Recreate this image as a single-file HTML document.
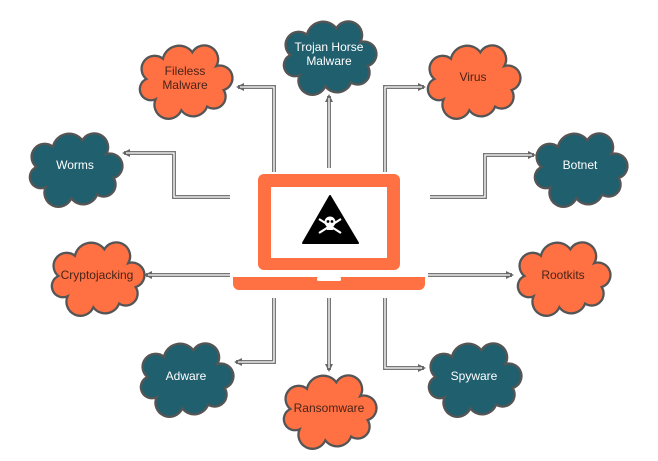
<!DOCTYPE html>
<html><head><meta charset="utf-8"><style>
html,body{margin:0;padding:0;background:#fff;}
svg{display:block;}
text{font-family:"Liberation Sans",sans-serif;font-size:12px;text-anchor:middle;}
.o{fill:#ff7043;}
.t{fill:#1f5f6e;}
.ot{fill:#4a2418;}
.tt{fill:#fff;}
.l1{fill:none;stroke:#777;stroke-width:4;}
.l2{fill:none;stroke:#fff;stroke-width:1.3;}
</style></head><body>
<svg width="658" height="461" viewBox="0 0 658 461">
<defs>
<symbol id="c" viewBox="0 0 100 76" overflow="visible">
<path d="M18,60 A12,12 0 0 1 8,38 A14,14 0 0 1 26,16 A18,18 0 0 1 58,9 A15,15 0 0 1 84,24 A13,13 0 0 1 92,50 A13,13 0 0 1 74,68 A16,16 0 0 1 46,72 A14,14 0 0 1 18,60 Z" stroke="#555" stroke-width="2.5"/>
</symbol>
<marker id="a" markerWidth="8" markerHeight="8" refX="6" refY="4" orient="auto" markerUnits="userSpaceOnUse"><path d="M0,0 L8,4 L0,8 Z" fill="#666"/></marker>
</defs>
<g class="l1" marker-end="url(#a)">
<path d="M274,172 V87 H238"/><path d="M329,168 V96"/><path d="M385,172 V87 H424"/>
<path d="M230,197 H174 V153 H124"/><path d="M430,197 H485 V155 H534"/>
<path d="M230,275 H146"/><path d="M428,275 H512"/>
<path d="M274,298 V362 H236"/><path d="M329,298 V370"/><path d="M385,298 V368 H424"/>
</g>
<g class="l2">
<path d="M274,172 V87 H240"/><path d="M329,168 V98"/><path d="M385,172 V87 H422"/>
<path d="M230,197 H174 V153 H126"/><path d="M430,197 H485 V155 H532"/>
<path d="M230,275 H148"/><path d="M428,275 H510"/>
<path d="M274,298 V362 H238"/><path d="M329,298 V368"/><path d="M385,298 V368 H422"/>
</g>
<!-- laptop -->
<rect x="258" y="174" width="142" height="96" rx="6" fill="#ff7043"/>
<rect x="271" y="187" width="116" height="71" fill="#fff"/>
<path d="M233,277 H425 V284 A6,6 0 0 1 419,290 H239 A6,6 0 0 1 233,284 Z" fill="#ff7043"/>
<rect x="317" y="277" width="24" height="4" rx="1.5" fill="#fff"/>
<path d="M330,196 L358,243 L303,243 Z" fill="#000" stroke="#000" stroke-width="2" stroke-linejoin="round"/>
<g fill="#fff">
<circle cx="330" cy="222" r="5.5"/><rect x="326.5" y="225" width="7" height="5" rx="1"/>
<path d="M319,219 L341,233 M341,219 L319,233" stroke="#fff" stroke-width="2.2"/>
</g>
<circle cx="328" cy="221.5" r="1.4" fill="#000"/><circle cx="332" cy="221.5" r="1.4" fill="#000"/>
<!-- clouds -->
<use href="#c" class="o" x="139" y="44" width="92" height="70"/>
<text class="ot" x="185" y="75">Fileless</text><text class="ot" x="185" y="89">Malware</text>
<use href="#c" class="t" x="283" y="20" width="92" height="70"/>
<text class="tt" x="329" y="51">Trojan Horse</text><text class="tt" x="329" y="65">Malware</text>
<use href="#c" class="o" x="427" y="44" width="92" height="70"/>
<text class="ot" x="473" y="81">Virus</text>
<use href="#c" class="t" x="29" y="132" width="92" height="70"/>
<text class="tt" x="75" y="169">Worms</text>
<use href="#c" class="t" x="534" y="132" width="92" height="70"/>
<text class="tt" x="580" y="169">Botnet</text>
<use href="#c" class="o" x="51" y="241" width="92" height="70"/>
<text class="ot" x="97" y="279">Cryptojacking</text>
<use href="#c" class="o" x="517" y="241" width="92" height="70"/>
<text class="ot" x="563" y="279">Rootkits</text>
<use href="#c" class="t" x="140" y="342" width="92" height="70"/>
<text class="tt" x="186" y="380">Adware</text>
<use href="#c" class="o" x="283" y="374" width="92" height="70"/>
<text class="ot" x="329" y="412">Ransomware</text>
<use href="#c" class="t" x="428" y="342" width="92" height="70"/>
<text class="tt" x="474" y="380">Spyware</text>
</svg>
</body></html>
